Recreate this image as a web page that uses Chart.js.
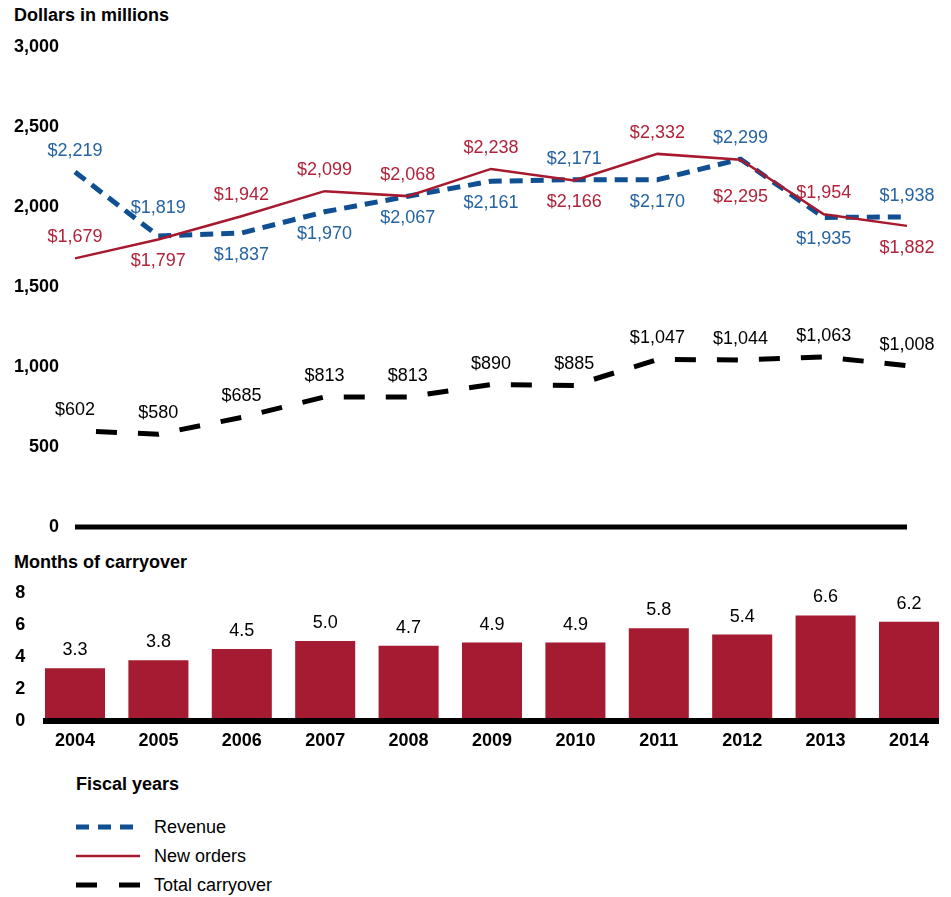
<!DOCTYPE html>
<html>
<head>
<meta charset="utf-8">
<script src="https://cdn.jsdelivr.net/npm/chart.js@4"></script>
<style>
    body { margin: 0; background: #fff; }
    #wrap { position: relative; width: 951px; height: 897px; font-family: Arial, "Liberation Sans", sans-serif; color: #000; }
    .title { position: absolute; font-weight: bold; font-size: 18px; line-height: 20px; white-space: nowrap; }
    canvas { position: absolute; left: 0; }
    .legend-row { position: absolute; left: 76px; width: 300px; height: 20px; font-size: 18px; line-height: 20px; }
    .legend-row svg { position: absolute; left: 0; top: 0; }
    .legend-row span { position: absolute; left: 78px; top: 0; white-space: nowrap; }
</style>
</head>
<body>
<div id="wrap">
    <div class="title" style="left:14px;top:5px;">Dollars in millions</div>
    <canvas id="dollarChart" width="951" height="545" style="top:0;"></canvas>
    <div class="title" style="left:14px;top:552px;">Months of carryover</div>
    <canvas id="monthsChart" width="951" height="200" style="top:564px;"></canvas>
    <div class="title" style="left:76px;top:774px;">Fiscal years</div>

    <div class="legend-row" style="top:817px;">
        <svg width="64" height="20"><line x1="0" y1="10" x2="64" y2="10" stroke="#0f4f92" stroke-width="5" stroke-dasharray="13,9"/></svg>
        <span>Revenue</span>
    </div>
    <div class="legend-row" style="top:846px;">
        <svg width="64" height="20"><line x1="0" y1="10" x2="64" y2="10" stroke="#a6192e" stroke-width="2.5"/></svg>
        <span>New orders</span>
    </div>
    <div class="legend-row" style="top:875px;">
        <svg width="64" height="20"><line x1="0" y1="10" x2="64" y2="10" stroke="#000" stroke-width="5" stroke-dasharray="21,22"/></svg>
        <span>Total carryover</span>
    </div>
</div>

<script>
// data (dollars in millions, fiscal years)
const years = ['2004', '2005', '2006', '2007', '2008', '2009', '2010', '2011', '2012', '2013', '2014'];
const revenue = [2219, 1819, 1837, 1970, 2067, 2161, 2171, 2170, 2299, 1935, 1938];
const newOrders = [1679, 1797, 1942, 2099, 2068, 2238, 2166, 2332, 2295, 1954, 1882];
const totalCarryover = [602, 580, 685, 813, 813, 890, 885, 1047, 1044, 1063, 1008];
const monthsOfCarryover = [3.3, 3.8, 4.5, 5.0, 4.7, 4.9, 4.9, 5.8, 5.4, 6.6, 6.2];

const FONT = 'Arial, "Liberation Sans", sans-serif';
const BLUE = '#0f4f92';
const BLUE_TEXT = '#2563a3';
const RED = '#a6192e';
const RED_TEXT = '#b0233a';

// extra vertical nudge for a few labels that would touch a line
const labelNudge = { revenue: { 1: -7 }, orders: { 8: 15 } };

function money(v) {
    return '$' + v.toLocaleString('en-US');
}

// labels on the line chart + thick zero line
const lineLabels = {
    id: 'lineLabels',
    afterDraw(chart) {
        const ctx = chart.ctx;
        const area = chart.chartArea;
        const yScale = chart.scales.y;
        ctx.save();
        ctx.fillStyle = '#000';
        ctx.fillRect(area.left, yScale.getPixelForValue(0) - 2.5, area.right - area.left, 5);

        ctx.font = '18px ' + FONT;
        ctx.textAlign = 'center';
        ctx.textBaseline = 'middle';
        chart.data.datasets.forEach((ds, di) => {
            const meta = chart.getDatasetMeta(di);
            const other = ds.key === 'revenue' ? newOrders : (ds.key === 'orders' ? revenue : null);
            meta.data.forEach((pt, i) => {
                const v = ds.data[i];
                const above = !other || v >= other[i] || Math.abs(v - other[i]) > 300;
                let dy = above ? -21 : 22;
                if (labelNudge[ds.key] && labelNudge[ds.key][i]) dy += labelNudge[ds.key][i];
                ctx.fillStyle = ds.labelColor;
                ctx.fillText(money(v), pt.x, pt.y + dy);
            });
        });
        ctx.restore();
    }
};

new Chart(document.getElementById('dollarChart'), {
    type: 'line',
    data: {
        labels: years,
        datasets: [
            {
                key: 'orders',
                data: newOrders,
                borderColor: RED,
                labelColor: RED_TEXT,
                borderWidth: 2.5,
                pointRadius: 0,
                tension: 0,
                fill: false
            },
            {
                key: 'revenue',
                data: revenue,
                borderColor: BLUE,
                labelColor: BLUE_TEXT,
                borderWidth: 5,
                borderDash: [13, 8],
                borderCapStyle: 'butt',
                pointRadius: 0,
                tension: 0,
                fill: false
            },
            {
                key: 'carryover',
                data: totalCarryover,
                borderColor: '#000',
                labelColor: '#000',
                borderWidth: 5,
                borderDash: [21, 21],
                borderDashOffset: 21,
                borderCapStyle: 'butt',
                pointRadius: 0,
                tension: 0,
                fill: false
            }
        ]
    },
    options: {
        responsive: false,
        animation: false,
        devicePixelRatio: 1,
        layout: { padding: { top: 47, right: 44, bottom: 18, left: 0 } },
        plugins: {
            legend: { display: false },
            tooltip: { enabled: false }
        },
        scales: {
            x: {
                display: false,
                offset: false
            },
            y: {
                min: 0,
                max: 3000,
                grid: { display: false, drawTicks: false },
                border: { display: false },
                ticks: {
                    stepSize: 500,
                    padding: 16,
                    color: '#000',
                    font: { family: FONT, size: 18, weight: 'bold' },
                    callback: v => v.toLocaleString('en-US')
                },
                afterFit(scale) {
                    scale.width = 75;
                    // layout padding already leaves room for the end labels
                    scale.paddingTop = 0;
                    scale.paddingBottom = 0;
                }
            }
        }
    },
    plugins: [lineLabels]
});

// value labels above bars + thick base line
const barExtras = {
    id: 'barExtras',
    afterDraw(chart) {
        const ctx = chart.ctx;
        const meta = chart.getDatasetMeta(0);
        const base = chart.scales.y.getPixelForValue(0);
        const first = meta.data[0];
        const last = meta.data[meta.data.length - 1];
        ctx.save();
        ctx.fillStyle = '#000';
        ctx.fillRect(first.x - first.width / 2 - 2, base - 3, (last.x + last.width / 2) - (first.x - first.width / 2) + 2, 6);

        ctx.font = '18px ' + FONT;
        ctx.textAlign = 'center';
        ctx.textBaseline = 'middle';
        meta.data.forEach((bar, i) => {
            ctx.fillText(monthsOfCarryover[i].toFixed(1), bar.x, bar.y - 18);
        });
        ctx.restore();
    }
};

new Chart(document.getElementById('monthsChart'), {
    type: 'bar',
    data: {
        labels: years,
        datasets: [{
            data: monthsOfCarryover,
            backgroundColor: '#a51b32',
            categoryPercentage: 1,
            barPercentage: 0.72
        }]
    },
    options: {
        responsive: false,
        animation: false,
        devicePixelRatio: 1,
        layout: { padding: { top: 29, right: 0.3, bottom: 0, left: 0 } },
        plugins: {
            legend: { display: false },
            tooltip: { enabled: false }
        },
        scales: {
            x: {
                grid: { display: false, drawTicks: false },
                border: { display: false },
                ticks: {
                    padding: 9,
                    color: '#000',
                    font: { family: FONT, size: 18, weight: 'bold' }
                },
                afterFit(scale) { scale.height = 43; }
            },
            y: {
                min: 0,
                max: 8,
                grid: { display: false, drawTicks: false },
                border: { display: false },
                ticks: {
                    stepSize: 2,
                    padding: 8,
                    color: '#000',
                    font: { family: FONT, size: 18, weight: 'bold' }
                },
                afterFit(scale) {
                    scale.width = 33.3;
                    scale.paddingTop = 0;
                    scale.paddingBottom = 0;
                }
            }
        }
    },
    plugins: [barExtras]
});
</script>
</body>
</html>
